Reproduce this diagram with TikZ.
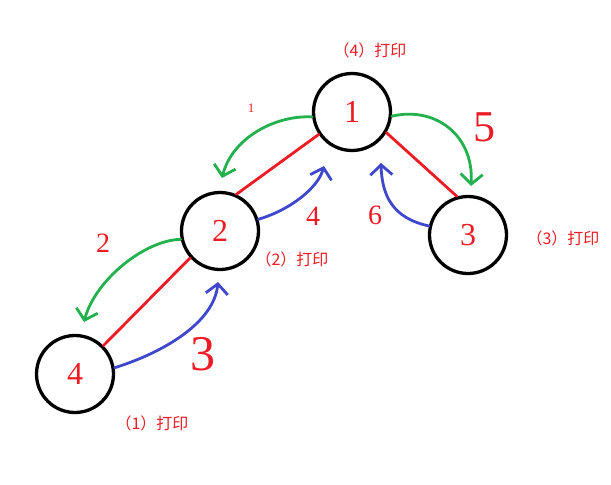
\documentclass[tikz,border=0pt]{standalone}
\usepackage{fontspec}
\setmainfont{Liberation Serif}
\newfontfamily\cjk{Noto Sans CJK SC}
\usetikzlibrary{arrows.meta}
\definecolor{pred}{RGB}{237,28,36}
\definecolor{pgreen}{RGB}{34,177,76}
\definecolor{pblue}{RGB}{63,72,204}
\begin{document}
\begin{tikzpicture}[x=1pt,y=-1pt,
  vertex/.style={circle,draw=black,line width=3.3pt,minimum size=77pt,inner sep=0pt,text=pred,font=\fontsize{32}{32}\selectfont},
  edge/.style={draw=pred,line width=2.8pt,line cap=round},
  garrow/.style={draw=pgreen,line width=2.8pt,line cap=round,-{Straight Barb[length=10pt,width=22pt]}},
  barrow/.style={draw=pblue,line width=2.8pt,line cap=round,-{Straight Barb[length=10pt,width=22pt]}},
  plabel/.style={text=pred,inner sep=0pt,font=\cjk\fontsize{16}{16}\selectfont},
  steplabel/.style={text=pred,inner sep=0pt}
]
\useasboundingbox (0,0) rectangle (611,485);
\fill[white] (0,0) rectangle (611,485);

\node[vertex] (n1) at (352,112) {1};
\node[vertex] (n2) at (220,231) {2};
\node[vertex] (n3) at (468,235) {3};
\node[vertex] (n4) at (75,374) {4};

\node[plabel] (l1) at (370,50) {（4）打印};
\node[plabel] (l2) at (292,259) {（2）打印};
\node[plabel] (l3) at (563,238) {（3）打印};
\node[plabel] (l4) at (152,423) {（1）打印};

\node[steplabel,font=\fontsize{13}{13}\selectfont] (s1) at (251,108) {1};
\node[steplabel,font=\fontsize{44}{44}\selectfont] (s5) at (484,127) {5};
\node[steplabel,font=\fontsize{28}{28}\selectfont] (s4) at (313,216) {4};
\node[steplabel,font=\fontsize{28}{28}\selectfont] (s6) at (375,215) {6};
\node[steplabel,font=\fontsize{28}{28}\selectfont] (s2) at (103,243) {2};
\node[steplabel,font=\fontsize{50}{50}\selectfont] (s3) at (203,354) {3};

% tree edges
\draw[edge] (n1.214) -- (n2.66);
\draw[edge] (n1.329) -- (n3.106);
\draw[edge] (n2.222) -- (n4.45);

% arrow tips
\coordinate (g12) at (222,178);
\coordinate (g13) at (471,186);
\coordinate (g24) at (84,322);
\coordinate (b21) at (324,166);
\coordinate (b31) at (381,163);
\coordinate (b42) at (218,282);

% green (going down)
\draw[garrow] (n1.187) .. controls (275,115) and (232,138) .. (g12);
\draw[garrow] (n1.354) .. controls (435,106) and (474,135) .. (g13);
\draw[garrow] (n2.192) .. controls (145,240) and (95,280) .. (g24);

% blue (going up)
\draw[barrow] (n2.17) .. controls (290,210) and (318,188) .. (b21);
\draw[barrow] (n3.167) .. controls (392,218) and (382,195) .. (b31);
\draw[barrow] (n4.9) .. controls (165,352) and (214,322) .. (b42);
\end{tikzpicture}
\end{document}
